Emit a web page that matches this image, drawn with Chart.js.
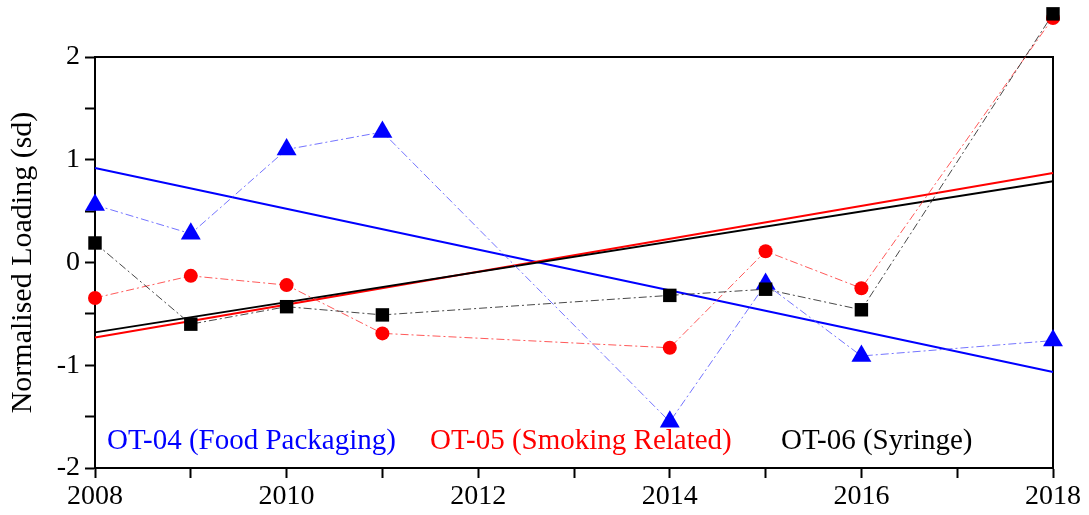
<!DOCTYPE html>
<html>
<head>
<meta charset="utf-8">
<script src="https://cdn.jsdelivr.net/npm/chart.js@4.4.0/dist/chart.umd.min.js"></script>
<style>
  html, body { margin: 0; padding: 0; background: #fff; }
  #wrap { width: 1089px; height: 515px; }
</style>
</head>
<body>
<div id="wrap"><canvas id="myChart"></canvas></div>
<script>
// Values (normalised loading, sd)
const years = [2008, 2009, 2010, 2011, 2014, 2015, 2016, 2018];
const foodPackaging = [0.56, 0.28, 1.10, 1.27, -1.55, -0.21, -0.91, -0.76];
const smokingRelated = [-0.345, -0.13, -0.22, -0.69, -0.83, 0.11, -0.25, 2.38];
const syringe = [0.19, -0.60, -0.43, -0.51, -0.32, -0.26, -0.46, 2.42];

// Linear trend end points
const trendYears = [2008, 2018];
const foodTrend = [0.92, -1.065];
const smokingTrend = [-0.73, 0.87];
const syringeTrend = [-0.68, 0.79];

const seriesLabels = ['OT-04 (Food Packaging)', 'OT-05 (Smoking Related)', 'OT-06 (Syringe)'];
const seriesColors = ['#0000ff', '#ff0000', '#000000'];

const serif = '"Liberation Serif", "Times New Roman", serif';

const toPoints = (xs, ys) => xs.map((x, i) => ({ x: x, y: ys[i] }));

// dashed connecting line + markers
function markerSet(label, values, color, lineColor, style, radius) {
    return {
        label: label,
        data: toPoints(years, values),
        showLine: true,
        borderColor: lineColor,
        borderWidth: 1,
        borderDash: [8, 3, 2, 3],
        pointStyle: style,
        pointRadius: radius,
        pointHoverRadius: radius,
        pointBackgroundColor: color,
        pointBorderColor: color,
        pointBorderWidth: 0,
        clip: false
    };
}

function trendSet(label, values, color) {
    return {
        label: label,
        data: toPoints(trendYears, values),
        showLine: true,
        borderColor: color,
        borderWidth: 2,
        pointRadius: 0,
        clip: false
    };
}

// top/right frame lines, markers above the frame and the in-plot labels
const frameAndLabels = {
    id: 'frameAndLabels',
    beforeDatasetsDraw(chart) {
        const a = chart.chartArea;
        const ctx = chart.ctx;
        ctx.save();
        ctx.strokeStyle = '#000';
        ctx.lineWidth = 2;
        ctx.beginPath();
        ctx.moveTo(a.left, a.top);
        ctx.lineTo(a.right, a.top);
        ctx.lineTo(a.right, a.bottom);
        ctx.stroke();
        ctx.restore();
    },
    afterDatasetsDraw(chart) {
        const a = chart.chartArea;
        const ctx = chart.ctx;
        // Chart.js skips points outside the chart area; draw those here
        const whole = { left: 0, top: 0, right: chart.width, bottom: chart.height };
        for (let i = 2; i >= 0; i--) {
            chart.getDatasetMeta(i).data.forEach((pt) => {
                if (pt.y < a.top || pt.y > a.bottom) pt.draw(ctx, whole);
            });
        }
        const offsets = [12, 335, 686];
        ctx.save();
        ctx.font = '29px ' + serif;
        ctx.textBaseline = 'alphabetic';
        ctx.textAlign = 'left';
        seriesLabels.forEach((t, i) => {
            ctx.fillStyle = seriesColors[i];
            ctx.fillText(t, a.left + offsets[i], a.bottom - 19);
        });
        ctx.restore();
    }
};

const ctx = document.getElementById('myChart').getContext('2d');

new Chart(ctx, {
    type: 'scatter',
    data: {
        datasets: [
            markerSet(seriesLabels[2], syringe, '#000000', 'rgba(40,40,40,0.85)', 'rect', 9.5),
            markerSet(seriesLabels[1], smokingRelated, '#ff0000', 'rgba(255,60,60,0.85)', 'circle', 7),
            markerSet(seriesLabels[0], foodPackaging, '#0000ff', 'rgba(70,70,255,0.75)', 'triangle', 11.5),
            trendSet('OT-06 trend', syringeTrend, '#000000'),
            trendSet('OT-05 trend', smokingTrend, '#ff0000'),
            trendSet('OT-04 trend', foodTrend, '#0000ff')
        ]
    },
    options: {
        responsive: true,
        maintainAspectRatio: false,
        animation: false,
        layout: { padding: { left: 0, top: 57, right: 36, bottom: 0 } },
        plugins: {
            legend: { display: false },
            tooltip: { enabled: false }
        },
        scales: {
            x: {
                type: 'linear',
                min: 2008,
                max: 2018,
                afterFit: (scale) => { scale.height = 47; },
                border: { display: true, color: '#000', width: 2 },
                grid: { drawOnChartArea: false, tickLength: 10, tickWidth: 2, tickColor: '#000' },
                ticks: {
                    stepSize: 1,
                    autoSkip: false,
                    maxRotation: 0,
                    padding: 2,
                    color: '#000',
                    font: { family: serif, size: 28 },
                    callback: (v) => (v % 2 === 0 ? String(v) : '')
                }
            },
            y: {
                min: -2,
                max: 2,
                afterFit: (scale) => { scale.width = 95; },
                border: { display: true, color: '#000', width: 2 },
                grid: { drawOnChartArea: false, tickLength: 10, tickWidth: 2, tickColor: '#000' },
                title: {
                    display: true,
                    text: 'Normalised Loading (sd)',
                    color: '#000',
                    font: { family: serif, size: 30 },
                    padding: { top: 5, bottom: 0 }
                },
                ticks: {
                    stepSize: 0.5,
                    autoSkip: false,
                    padding: 5,
                    color: '#000',
                    font: { family: serif, size: 28 },
                    callback: (v) => (Number.isInteger(v) ? String(v) : '')
                }
            }
        }
    },
    plugins: [frameAndLabels]
});
</script>
</body>
</html>
